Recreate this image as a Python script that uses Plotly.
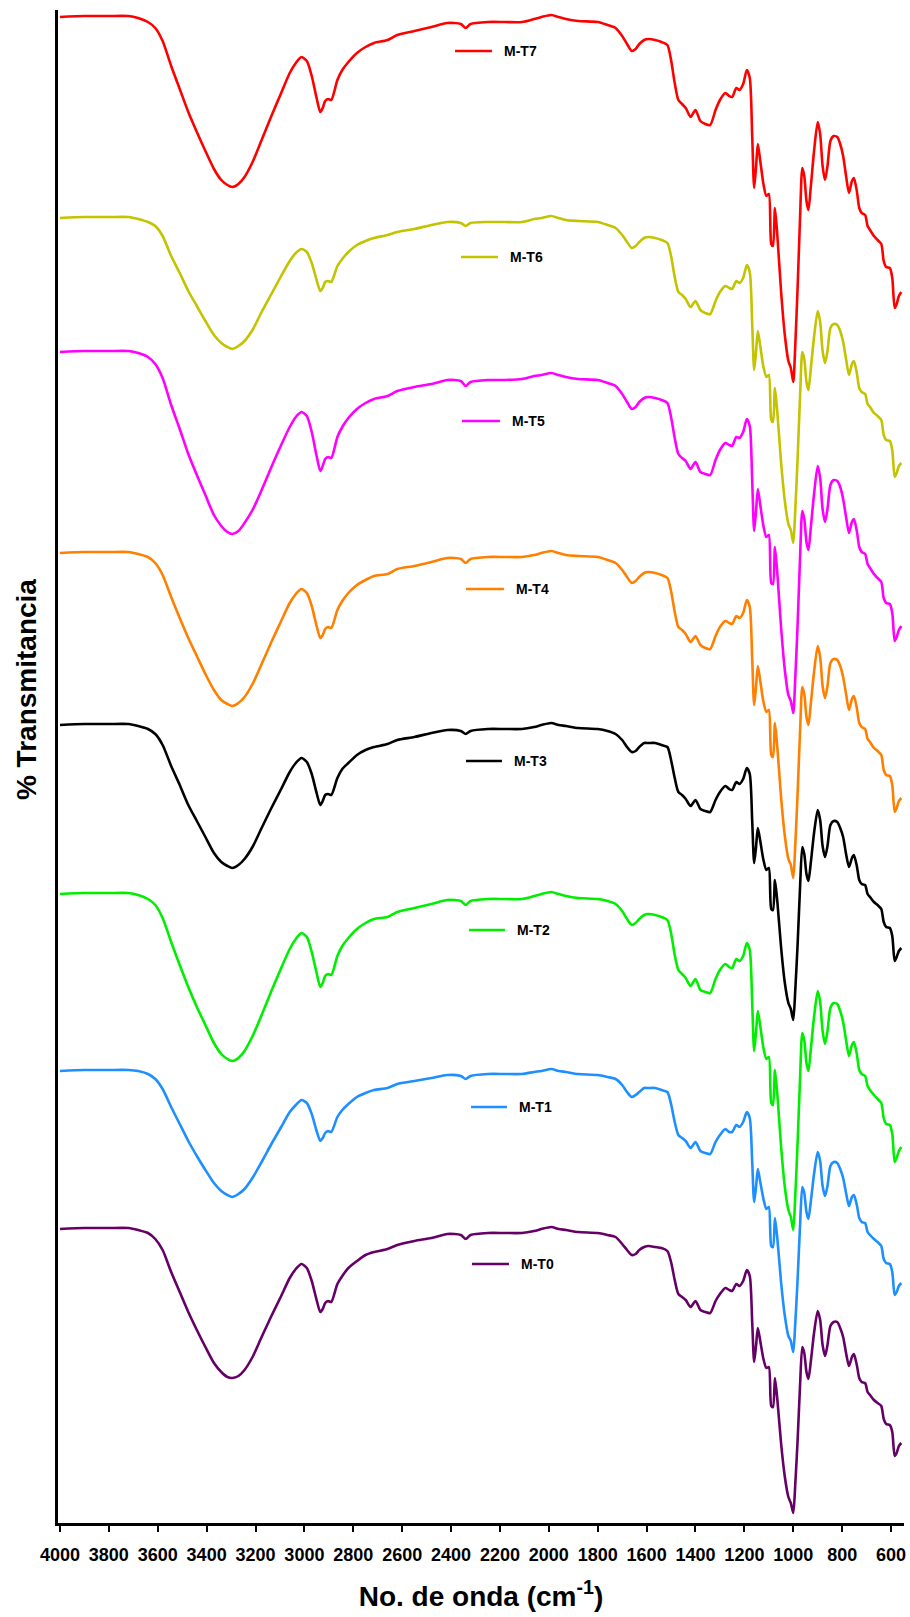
import plotly.graph_objects as go

# Wavenumber grid (cm-1) shared by all spectra
wavenumber = [
    4000, 3900, 3800, 3720, 3680, 3640, 3610, 3580, 3545, 3510,
    3475, 3440, 3405, 3370, 3340, 3315, 3295, 3270, 3245, 3210,
    3175, 3135, 3095, 3060, 3035, 3012, 2990, 2970, 2950, 2935,
    2925, 2915, 2903, 2890, 2865, 2845, 2820, 2785, 2750, 2715,
    2660, 2620, 2550, 2480, 2415, 2360, 2340, 2320, 2250, 2180,
    2110, 2060, 2030,
    1990, 1960, 1930, 1880, 1800, 1760, 1727, 1700, 1680, 1661,
    1645, 1630, 1610, 1592, 1565, 1539, 1515, 1500, 1485, 1470,
    1455, 1440, 1420, 1400, 1380, 1360, 1340, 1318, 1300, 1278,
    1262, 1250, 1233, 1220, 1205, 1190, 1178, 1168, 1160, 1152,
    1145, 1135, 1122, 1110, 1100, 1090, 1083, 1075, 1065, 1050,
    1035, 1020, 1010, 1000, 992, 982, 972, 963, 955, 946,
    938, 928, 915, 900, 890, 880, 870, 860, 848, 835,
    820, 808, 796, 784, 772, 760, 752, 740, 730, 720,
    706, 696, 686, 670, 655, 640, 630, 620, 605, 595,
    585, 577, 568, 558,
]

# Band depth below each sample's high-wavenumber plateau (transmittance units)
mt7 = [
    1, 0, 0, 0, 2, 6, 12, 25, 50, 73, 96, 116, 135, 153, 164, 169, 171, 168, 161, 145,
    124, 100, 77, 57, 47, 41, 45, 60, 82, 96, 92, 85, 83, 84, 64, 54, 46, 37, 31, 27,
    24, 19, 15, 11, 7, 8, 12, 8, 6, 6, 6, 3, 1,
    -1, 1, 3, 5, 6, 9, 12, 20, 28, 35, 33, 28, 24, 23, 24, 26, 29, 44, 67, 84,
    88, 92, 101, 94, 105, 108, 109, 94, 84, 77, 80, 81, 72, 74, 68, 54, 62, 120, 172, 150,
    128, 145, 168, 180, 178, 228, 230, 192, 220, 275, 318, 345, 352, 366, 330, 270, 200, 152, 160, 185,
    194, 170, 135, 106, 118, 150, 164, 150, 125, 120, 121, 128, 140, 160, 177, 165, 162, 175, 192, 197,
    199, 210, 214, 220, 224, 228, 245, 251, 252, 262, 292, 288, 280, 276,
]
mt6 = [
    1, 0, 0, 0, 2, 5, 9, 19, 39, 56, 74, 89, 104, 118, 126, 130, 132, 129, 124, 112,
    95, 77, 59, 44, 36, 32, 35, 46, 63, 74, 71, 65, 64, 65, 49, 42, 35, 28, 24, 21,
    18, 15, 12, 8, 5, 6, 9, 6, 5, 5, 5, 2, 1,
    -1, 1, 3, 4, 5, 8, 11, 18, 25, 31, 29, 25, 21, 20, 21, 23, 26, 39, 60, 75,
    78, 82, 90, 84, 93, 96, 97, 84, 75, 69, 71, 72, 64, 66, 61, 48, 55, 107, 153, 134,
    114, 129, 150, 160, 158, 203, 205, 171, 196, 245, 283, 307, 313, 326, 294, 240, 178, 135, 142, 165,
    173, 151, 120, 94, 105, 134, 146, 134, 111, 107, 108, 114, 125, 142, 158, 147, 144, 156, 171, 175,
    177, 187, 190, 196, 199, 203, 218, 223, 224, 233, 260, 256, 249, 246,
]
mt5 = [
    1, 0, 0, 0, 2, 6, 13, 27, 54, 78, 103, 124, 144, 164, 175, 181, 183, 180, 172, 158,
    139, 116, 94, 76, 66, 61, 65, 81, 105, 120, 115, 108, 106, 107, 86, 76, 67, 58, 52, 48,
    45, 40, 36, 33, 29, 30, 35, 31, 29, 29, 28, 25, 24,
    22, 24, 26, 28, 29, 32, 35, 43, 51, 58, 56, 51, 47, 46, 47, 49, 52, 66, 87, 103,
    107, 110, 118, 111, 121, 123, 124, 109, 99, 92, 94, 95, 86, 87, 81, 68, 75, 130, 180, 159,
    138, 154, 175, 186, 184, 232, 233, 196, 223, 276, 318, 344, 350, 362, 328, 272, 205, 160, 168, 191,
    199, 176, 143, 115, 127, 158, 171, 158, 134, 129, 130, 136, 148, 166, 182, 171, 168, 180, 196, 201,
    203, 213, 217, 223, 227, 231, 247, 252, 253, 262, 290, 286, 279, 275,
]
mt4 = [
    1, 0, 0, 0, 2, 5, 11, 23, 45, 66, 86, 104, 122, 138, 148, 152, 154, 151, 145, 131,
    112, 90, 69, 51, 42, 37, 41, 54, 74, 86, 83, 77, 75, 76, 58, 49, 41, 33, 28, 24,
    22, 17, 14, 10, 6, 7, 11, 7, 5, 5, 5, 3, 1,
    -1, 1, 3, 4, 5, 8, 11, 18, 25, 31, 29, 25, 21, 20, 21, 23, 26, 39, 60, 75,
    78, 82, 90, 84, 93, 96, 97, 84, 75, 69, 71, 72, 64, 66, 61, 48, 55, 107, 153, 134,
    114, 129, 150, 160, 158, 203, 205, 171, 196, 245, 283, 307, 313, 326, 294, 240, 178, 135, 142, 165,
    173, 151, 120, 94, 105, 134, 146, 134, 111, 107, 108, 114, 125, 142, 158, 147, 144, 156, 171, 175,
    177, 187, 190, 196, 199, 203, 218, 223, 224, 233, 260, 256, 249, 246,
]
mt3 = [
    1, 0, 0, 0, 2, 5, 10, 21, 42, 61, 81, 97, 113, 129, 138, 142, 144, 141, 135, 122,
    104, 84, 65, 48, 39, 34, 38, 50, 69, 81, 77, 71, 70, 71, 54, 45, 39, 31, 26, 23,
    20, 16, 13, 9, 6, 7, 10, 7, 5, 5, 5, 3, 1,
    -1, 1, 2, 4, 5, 7, 10, 16, 23, 28, 27, 23, 19, 19, 19, 21, 23, 36, 54, 68,
    71, 75, 82, 76, 85, 87, 88, 76, 68, 62, 65, 66, 58, 60, 55, 44, 50, 97, 139, 122,
    104, 117, 136, 146, 144, 185, 186, 156, 178, 223, 258, 279, 285, 296, 267, 219, 162, 123, 130, 150,
    157, 138, 109, 86, 96, 122, 133, 122, 101, 97, 98, 104, 113, 130, 143, 134, 131, 142, 156, 160,
    161, 170, 173, 178, 181, 185, 198, 203, 204, 212, 237, 233, 227, 224,
]
mt2 = [
    1, 0, 0, 0, 2, 6, 12, 25, 49, 72, 94, 114, 132, 150, 161, 166, 168, 165, 158, 142,
    122, 98, 75, 56, 46, 40, 44, 59, 80, 94, 90, 83, 81, 82, 63, 53, 45, 36, 30, 26,
    24, 19, 15, 11, 7, 8, 12, 8, 6, 6, 6, 3, 1,
    -1, 1, 3, 5, 6, 8, 11, 18, 26, 32, 30, 26, 22, 21, 22, 24, 27, 40, 62, 77,
    81, 85, 93, 86, 97, 99, 100, 86, 77, 71, 74, 75, 66, 68, 63, 50, 57, 110, 158, 138,
    118, 133, 155, 166, 164, 210, 212, 177, 202, 253, 293, 317, 324, 337, 304, 248, 184, 140, 147, 170,
    178, 156, 124, 98, 109, 138, 151, 138, 115, 110, 111, 118, 129, 147, 163, 152, 149, 161, 177, 181,
    183, 193, 197, 202, 206, 210, 225, 231, 232, 241, 269, 265, 258, 254,
]
mt1 = [
    1, 0, 0, 0, 1, 4, 9, 19, 37, 54, 71, 86, 100, 113, 121, 125, 127, 124, 119, 107,
    92, 74, 57, 42, 35, 30, 33, 44, 61, 71, 68, 63, 61, 62, 47, 40, 34, 27, 23, 20,
    18, 14, 11, 8, 5, 6, 9, 6, 4, 4, 4, 2, 1,
    -1, 1, 2, 4, 5, 7, 9, 15, 22, 27, 25, 22, 18, 18, 18, 20, 22, 34, 52, 65,
    68, 71, 78, 72, 81, 83, 84, 72, 65, 59, 62, 62, 55, 57, 52, 42, 48, 92, 132, 116,
    99, 112, 129, 139, 137, 176, 177, 148, 169, 212, 245, 266, 271, 282, 254, 208, 154, 117, 123, 142,
    149, 131, 104, 82, 91, 116, 126, 116, 96, 92, 93, 99, 108, 123, 136, 127, 125, 135, 148, 152,
    153, 162, 165, 169, 172, 176, 189, 193, 194, 202, 225, 222, 216, 213,
]
mt0 = [
    1, 0, 0, 0, 2, 5, 11, 22, 44, 64, 84, 102, 119, 135, 144, 149, 150, 148, 142, 128,
    109, 88, 68, 50, 41, 36, 40, 53, 72, 84, 81, 75, 73, 74, 56, 48, 40, 33, 27, 24,
    21, 17, 13, 10, 6, 7, 11, 7, 5, 5, 5, 3, 1,
    -1, 1, 2, 4, 5, 7, 9, 16, 22, 27, 26, 22, 19, 18, 19, 20, 23, 34, 52, 66,
    69, 72, 79, 73, 82, 84, 85, 73, 66, 60, 62, 63, 56, 58, 53, 42, 48, 94, 134, 117,
    100, 113, 131, 140, 139, 178, 179, 150, 172, 215, 248, 269, 275, 285, 257, 211, 156, 119, 125, 144,
    151, 133, 105, 83, 92, 117, 128, 117, 98, 94, 94, 100, 109, 125, 138, 129, 126, 137, 150, 154,
    155, 164, 167, 172, 175, 178, 191, 196, 197, 204, 228, 225, 218, 215,
]

samples = ["M-T7", "M-T6", "M-T5", "M-T4", "M-T3", "M-T2", "M-T1", "M-T0"]
spectra = [mt7, mt6, mt5, mt4, mt3, mt2, mt1, mt0]
# Vertical stacking offset of each spectrum
stack_offset = [1507, 1306, 1172, 971, 799, 630, 453, 295]
colors = ["#ff0000", "#c3c300", "#ff00ff", "#ff8000", "#000000", "#00ee00", "#1e8fff", "#660066"]

# Legend key placement (pixels in the 910x1617 canvas): line start, line end, row
key_x0 = [456, 462, 463, 467, 467, 470, 472, 473]
key_x1 = [493, 499, 501, 505, 503, 506, 508, 510]
key_y = [51, 257, 421, 589, 761, 930, 1107, 1264]

W, H = 910, 1617
ML, MR, MT, MB = 58, 4, 10, 94
PW, PH = W - ML - MR, H - MT - MB


def px_to_paper(px, py):
    return (px - ML) / PW, (H - MB - py) / PH


fig = go.Figure()
for name, depth, off, col in zip(samples, spectra, stack_offset, colors):
    fig.add_trace(go.Scatter(
        x=wavenumber,
        y=[off - d for d in depth],
        mode="lines",
        name=name,
        line=dict(color=col, width=2.6, shape="spline", smoothing=0.7),
        showlegend=False,
    ))

for name, col, x0, x1, yk in zip(samples, colors, key_x0, key_x1, key_y):
    ax0, ay = px_to_paper(x0, yk)
    ax1, _ = px_to_paper(x1, yk)
    fig.add_shape(type="line", xref="paper", yref="paper",
                  x0=ax0, x1=ax1, y0=ay, y1=ay,
                  line=dict(color=col, width=2.6))
    tx, _ = px_to_paper(x1 + 10, yk)
    fig.add_annotation(xref="paper", yref="paper", x=tx, y=ay,
                       text="<b>" + name + "</b>", showarrow=False,
                       xanchor="left", yanchor="middle",
                       font=dict(family="Liberation Sans, Arial, sans-serif", size=14, color="#000"))

# Y-axis title drawn as rotated text left of the axis line
ytx, yty = px_to_paper(26, 690)
fig.add_annotation(xref="paper", yref="paper", x=ytx, y=yty,
                   text="<b>% Transmitancia</b>", showarrow=False, textangle=-90,
                   xanchor="center", yanchor="middle",
                   font=dict(family="Liberation Sans, Arial, sans-serif", size=28, color="#000"))

fig.update_layout(
    width=W, height=H,
    margin=dict(l=ML, r=MR, t=MT, b=MB),
    paper_bgcolor="white", plot_bgcolor="white",
    font=dict(family="Liberation Sans, Arial, sans-serif", color="#000"),
    xaxis=dict(
        range=[4008, 547],
        tickvals=list(range(4000, 599, -200)),
        ticktext=["<b>%d</b>" % v for v in range(4000, 599, -200)],
        tickfont=dict(size=18, family="Liberation Sans Narrow, Liberation Sans, Arial, sans-serif"),
        ticks="outside", ticklen=6, tickwidth=2, tickcolor="#000",
        ticklabelstandoff=8,
        showline=True, linecolor="#000", linewidth=2.6,
        showgrid=False, zeroline=False,
        title=dict(text="<b>No. de onda (cm<sup>-1</sup>)</b>",
                   font=dict(size=28, family="Liberation Sans, Arial, sans-serif"),
                   standoff=22),
    ),
    yaxis=dict(
        range=[0, PH],
        showticklabels=False, ticks="",
        showline=True, linecolor="#000", linewidth=2.6,
        showgrid=False, zeroline=False,
    ),
)

fig.write_html("out.html")
